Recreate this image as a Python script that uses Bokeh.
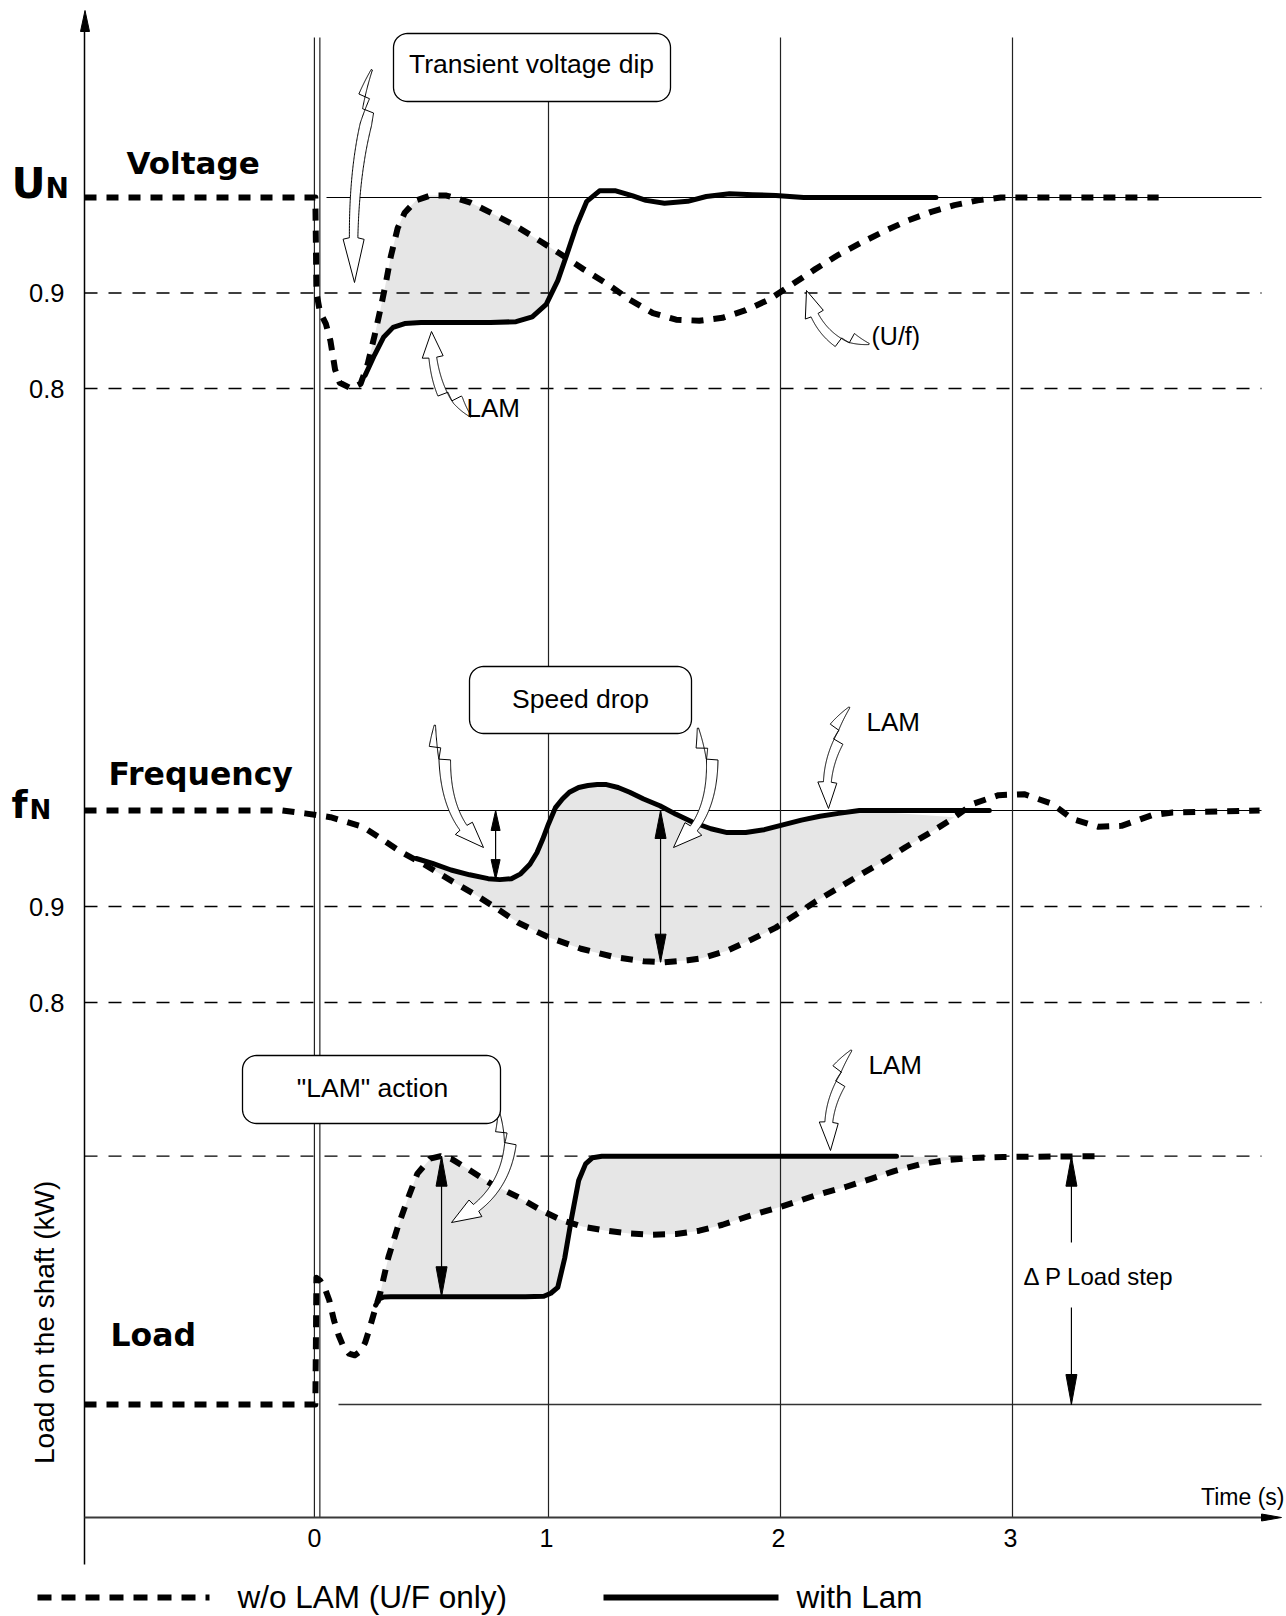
import numpy as np
from bokeh.plotting import figure
from bokeh.models import Range1d
from bokeh.core.properties import value
from bokeh.embed import file_html
from bokeh.resources import INLINE

# ---------------- values ----------------
time_ticks = [0, 1, 2, 3]
time_labels = ["0", "1", "2", "3"]
level_ticks = [0.9, 0.8]
level_labels = ["0.9", "0.8"]

# Voltage (p.u. of U_N)
volt_t_wo = [-1.0, -0.005, 0.0, 0.015, 0.04, 0.06, 0.08, 0.10, 0.15, 0.19, 0.22, 0.25, 0.28, 0.30,
             0.32, 0.35, 0.38, 0.43, 0.49, 0.56, 0.66, 0.76, 0.86, 0.96, 1.05, 1.15, 1.25, 1.35,
             1.45, 1.55, 1.65, 1.75, 1.85, 1.95, 2.05, 2.15, 2.25, 2.35, 2.45, 2.55, 2.65, 2.75,
             2.85, 2.95, 3.05, 3.63]
volt_wo = [1.0, 1.0, 0.90, 0.88, 0.868, 0.85, 0.82, 0.806, 0.80, 0.805, 0.825, 0.855, 0.888, 0.912,
           0.938, 0.968, 0.984, 0.997, 1.002, 1.002, 0.995, 0.983, 0.970, 0.955, 0.941, 0.925, 0.910,
           0.893, 0.879, 0.872, 0.871, 0.874, 0.882, 0.893, 0.909, 0.925, 0.940, 0.953, 0.965, 0.976,
           0.985, 0.992, 0.997, 1.0, 1.0, 1.0]
volt_t_lam = [0.21, 0.25, 0.29, 0.33, 0.38, 0.45, 0.60, 0.75, 0.86, 0.93, 0.99, 1.04, 1.08, 1.12,
              1.165, 1.22, 1.29, 1.36, 1.42, 1.50, 1.60, 1.68, 1.78, 1.88, 1.98, 2.10, 2.67]
volt_lam = [0.814, 0.835, 0.854, 0.864, 0.868, 0.869, 0.869, 0.869, 0.870, 0.875, 0.888, 0.913,
            0.941, 0.970, 0.996, 1.007, 1.007, 1.002, 0.997, 0.994, 0.996, 1.001, 1.004, 1.003,
            1.002, 1.0, 1.0]

# Frequency (p.u. of f_N)
freq_t_wo = [-1.0, -0.15, -0.05, 0.06, 0.2, 0.27, 0.37, 0.47, 0.58, 0.68, 0.77, 0.87, 1.0, 1.14,
             1.29, 1.41, 1.50, 1.60, 1.66, 1.77, 1.87, 1.98, 2.05, 2.15, 2.24, 2.35, 2.45, 2.54,
             2.66, 2.75, 2.83, 2.94, 3.05, 3.17, 3.26, 3.37, 3.47, 3.60, 3.69, 4.065]
freq_wo = [1.0, 1.0, 0.997, 0.993, 0.983, 0.972, 0.956, 0.943, 0.927, 0.913, 0.899, 0.883, 0.868,
           0.856, 0.847, 0.843, 0.842, 0.844, 0.846, 0.854, 0.865, 0.878, 0.889, 0.905, 0.918,
           0.934, 0.948, 0.962, 0.979, 0.993, 1.007, 1.016, 1.017, 1.007, 0.991, 0.983, 0.984,
           0.995, 0.998, 1.0]
freq_t_lam = [0.43, 0.50, 0.58, 0.66, 0.74, 0.79, 0.84, 0.88, 0.92, 0.95, 0.975, 1.0, 1.03, 1.06,
              1.09, 1.13, 1.17, 1.21, 1.25, 1.30, 1.35, 1.41, 1.48, 1.55, 1.62, 1.70, 1.77, 1.85,
              1.93, 2.01, 2.09, 2.17, 2.25, 2.34, 2.90]
freq_lam = [0.950, 0.945, 0.938, 0.933, 0.929, 0.928, 0.929, 0.934, 0.944, 0.956, 0.970, 0.986,
            1.003, 1.012, 1.019, 1.024, 1.026, 1.027, 1.027, 1.024, 1.019, 1.012, 1.005, 0.996,
            0.988, 0.981, 0.977, 0.977, 0.980, 0.985, 0.990, 0.994, 0.997, 1.0, 1.0]

# Load on the shaft (0 = initial load, 1 = initial load + load step)
load_t_wo = [-1.0, -0.005, 0.0, 0.015, 0.035, 0.055, 0.075, 0.095, 0.115, 0.14, 0.165, 0.19, 0.21,
             0.23, 0.25, 0.275, 0.31, 0.35, 0.39, 0.435, 0.49, 0.535, 0.58, 0.64, 0.75, 0.87, 0.97,
             1.06, 1.15, 1.25, 1.35, 1.45, 1.55, 1.65, 1.75, 1.87, 2.0, 2.15, 2.28, 2.39, 2.49,
             2.60, 2.71, 2.83, 2.96, 3.37]
load_wo = [0.0, 0.0, 0.51, 0.50, 0.47, 0.42, 0.34, 0.28, 0.235, 0.205, 0.198, 0.215, 0.25, 0.31,
           0.375, 0.45, 0.593, 0.714, 0.82, 0.93, 0.99, 1.0, 0.99, 0.956, 0.89, 0.835, 0.781,
           0.741, 0.716, 0.70, 0.689, 0.684, 0.687, 0.700, 0.724, 0.761, 0.796, 0.842, 0.876,
           0.909, 0.940, 0.967, 0.984, 0.993, 0.997, 1.0]
load_t_lam = [0.255, 0.27, 0.29, 0.32, 0.50, 0.70, 0.90, 0.98, 1.01, 1.04, 1.07, 1.10, 1.13, 1.16,
              1.19, 1.23, 1.60, 2.00, 2.50]
load_lam = [0.40, 0.425, 0.433, 0.434, 0.434, 0.434, 0.434, 0.436, 0.448, 0.472, 0.59, 0.754,
            0.902, 0.969, 0.994, 1.0, 1.0, 1.0, 1.0]

# measurement arrows: [time, from, to]
speed_drop_lam = [0.772, 1.0, 0.928]
speed_drop_wo = [1.483, 1.0, 0.842]
lam_action_gap = [0.539, 1.0, 0.434]
load_step = [3.254, 1.0, 0.0]

# ---------------- layout ----------------
W, H, M = 1286, 1616, 0
T0_PX, PX_PER_S = 316.0, 232.0
PPU = {"volt": 955.0, "freq": 960.0, "load": 248.3}
ANCHOR = {"volt": (197.0, 1.0), "freq": (810.0, 1.0), "load": (1404.0, 0.0)}


def t_at(px):
    return (px - T0_PX) / PX_PER_S


def level_range(name):
    ref_px, ref_val = ANCHOR[name]
    k = PPU[name]
    return Range1d(ref_val - (M + H - ref_px) / k, ref_val + (ref_px - M) / k)


p = figure(width=W, height=H, output_backend="svg", toolbar_location=None,
           x_range=Range1d(t_at(M), t_at(M + W)), y_range=Range1d(M + H, M),
           x_axis_type=None, y_axis_type=None, min_border=0,
           outline_line_color=None, background_fill_color="white",
           border_fill_color="white")
p.extra_x_ranges = {"px": Range1d(M, M + W)}
p.extra_y_ranges = {k: level_range(k) for k in PPU}

SANS = value("Liberation Sans")
HEAVY = value("DejaVu Sans")
GRAY = "#e6e6e6"
INK = "black"


def label(x, y, txt, size, align="left", font=SANS, style="normal", angle=0.0):
    # y is the visual centre of the text line
    p.text(x=[x], y=[y], text=[txt], x_range_name="px", text_font=font,
           text_font_size=value(f"{size}px"), text_font_style=style, text_align=align,
           text_baseline="middle", text_color=INK, angle=angle)


def pick(ts, vs, lo, hi):
    sel = [(t, v) for t, v in zip(ts, vs) if lo <= t <= hi]
    return [a for a, _ in sel], [b for _, b in sel]


def band(a, b, yr):
    xs = list(a[0]) + list(b[0])[::-1]
    ys = list(a[1]) + list(b[1])[::-1]
    p.patch(xs, ys, y_range_name=yr, fill_color=GRAY, line_color=None)


# shaded differences
band(pick(volt_t_wo, volt_wo, 0.21, 1.05), pick(volt_t_lam, volt_lam, 0.0, 1.08), "volt")
band(pick(freq_t_lam, freq_lam, 0.0, 2.34), pick(freq_t_wo, freq_wo, 0.43, 2.75), "freq")
band(pick(load_t_wo, load_wo, 0.25, 2.83), pick(load_t_lam, load_lam, 0.0, 2.5), "load")

# horizontal reference lines
T_LEFT, T_RIGHT = t_at(84), t_at(1261)
THIN_DASH = "13 11"
for yr in ("volt", "freq"):
    start = t_at(326) if yr == "volt" else t_at(330)
    p.line([start, T_RIGHT], [1.0, 1.0], y_range_name=yr, line_color=INK, line_width=1.2)
    for lv in level_ticks:
        p.line([T_LEFT, T_RIGHT], [lv, lv], y_range_name=yr, line_color=INK, line_width=1.3,
               line_dash=THIN_DASH)
p.line([T_LEFT, T_RIGHT], [1.0, 1.0], y_range_name="load", line_color=INK, line_width=1.3,
       line_dash=THIN_DASH)
p.line([t_at(338), T_RIGHT], [0.0, 0.0], y_range_name="load", line_color="#333333", line_width=1.6)

# vertical time lines
vx = []
for tt in time_ticks:
    if tt == 0:
        vx += [tt - 0.009, tt + 0.0145]
    else:
        vx.append(tt)
p.segment(x0=vx, y0=[37] * len(vx), x1=vx, y1=[1517] * len(vx), line_color="#222222",
          line_width=1.2)

# axes
p.segment(x0=[T_LEFT], y0=[28], x1=[T_LEFT], y1=[1564], line_color=INK, line_width=1.5)
p.patch([84.5, 80.0, 89.0], [10, 31, 31], x_range_name="px", fill_color=INK, line_color=INK)
p.line([T_LEFT, t_at(1262)], [1517, 1517], line_color="#3a3a3a", line_width=2.2)
p.patch([1281, 1261, 1261], [1517, 1513.5, 1520.5], x_range_name="px", fill_color=INK,
        line_color=INK)

# curves
for (tw, vw, tl, vl, yr) in ((volt_t_wo, volt_wo, volt_t_lam, volt_lam, "volt"),
                             (freq_t_wo, freq_wo, freq_t_lam, freq_lam, "freq"),
                             (load_t_wo, load_wo, load_t_lam, load_lam, "load")):
    p.line(tw, vw, y_range_name=yr, line_color=INK, line_width=6, line_dash="12 10",
           line_join="round")
    p.line(tl, vl, y_range_name=yr, line_color=INK, line_width=5, line_join="round",
           line_cap="round")


# double-headed measurement arrows
def double_arrow(spec, yr, head_len, head_w, gap=None):
    t, ya, yb = spec
    kx, ky = 1.0 / PX_PER_S, 1.0 / PPU[yr]
    if gap is None:
        p.segment([t], [ya], [t], [yb], y_range_name=yr, line_color=INK, line_width=1.2)
    else:
        p.segment([t, t], [ya, gap[1]], [t, t], [gap[0], yb], y_range_name=yr,
                  line_color=INK, line_width=1.2)
    sg = 1.0 if ya > yb else -1.0
    hw = 0.5 * head_w * kx
    xs = [[t, t - hw, t + hw], [t, t - hw, t + hw]]
    ys = [[ya, ya - sg * head_len * ky, ya - sg * head_len * ky],
          [yb, yb + sg * head_len * ky, yb + sg * head_len * ky]]
    p.patches(xs, ys, y_range_name=yr, fill_color=INK, line_color=INK, line_width=1)


double_arrow(speed_drop_lam, "freq", 20, 9)
double_arrow(speed_drop_wo, "freq", 28, 11)
double_arrow(lam_action_gap, "load", 30, 11)
double_arrow(load_step, "load", 30, 11,
             gap=((1404 - 1242) / PPU["load"], (1404 - 1307) / PPU["load"]))


# hollow "lightning" callout arrows (page pixel geometry)
def bolt(tail, ctrl, tip, head_len, head_w, shaft_w, zig_frac):
    P0, P1, P2 = (np.asarray(a, float) for a in (tail, ctrl, tip))
    s = np.linspace(0.0, 1.0, 160)
    B = np.outer((1 - s) ** 2, P0) + np.outer(2 * s * (1 - s), P1) + np.outer(s ** 2, P2)
    seg = np.hypot(*np.diff(B, axis=0).T)
    arc = np.concatenate([[0.0], np.cumsum(seg)])
    tan = np.gradient(B, axis=0)
    tan /= np.hypot(tan[:, 0], tan[:, 1])[:, None]
    nrm = np.column_stack([-tan[:, 1], tan[:, 0]])
    base = arc[-1] - head_len
    ib = int(np.searchsorted(arc, base))
    l, c, n = arc[:ib], B[:ib], nrm[:ib]
    half = 0.5 * shaft_w * np.clip(0.1 + l / (0.35 * base), 0, 1) * (1 - 0.35 * l / base)
    lz = zig_frac * base
    d = 0.9 * shaft_w
    offL = np.where(l < lz, d, 0.0)
    offR = np.where(l < lz + 0.9 * shaft_w, d, 0.0)
    left = c + n * (half + offL)[:, None]
    right = c + n * (-half + offR)[:, None]
    cb, nb = B[ib], nrm[ib]
    pts = list(left) + [cb + nb * 0.5 * head_w, P2, cb - nb * 0.5 * head_w] + list(right[::-1])
    pts = np.array(pts)
    p.patch(pts[:, 0], pts[:, 1], x_range_name="px", fill_color="white", line_color=INK,
            line_width=1.0, line_join="miter")


bolt((382, 74), (348, 150), (354, 282), 44, 21, 13, 0.16)
bolt((463, 424), (430, 392), (431, 331), 26, 21, 12, 0.35)
bolt((866, 354), (816, 342), (806, 290), 26, 20, 12, 0.30)
bolt((446, 726), (436, 815), (483, 847), 28, 21, 13, 0.20)
bolt((709, 726), (722, 815), (673, 847), 28, 21, 13, 0.20)
bolt((857, 714), (820, 755), (828, 808), 26, 19, 12, 0.30)
bolt((510, 1110), (518, 1192), (451, 1222), 28, 21, 13, 0.20)
bolt((859, 1057), (820, 1100), (830, 1150), 28, 19, 12, 0.30)


# rounded callout boxes
def rounded_box(left, right, top, bottom, r=14):
    xs, ys = [], []
    for cx, cy, a0 in ((right - r, top + r, -90), (right - r, bottom - r, 0),
                       (left + r, bottom - r, 90), (left + r, top + r, 180)):
        a = np.radians(np.linspace(a0, a0 + 90, 12))
        xs += list(cx + r * np.cos(a))
        ys += list(cy + r * np.sin(a))
    p.patch(xs, ys, x_range_name="px", fill_color="white", line_color=INK, line_width=1.3)


rounded_box(393, 670, 33, 101)
rounded_box(469, 691, 666, 733)
rounded_box(242, 500, 1055, 1123)
label(531, 63, "Transient voltage dip", 26.5, align="center")
label(580, 698, "Speed drop", 26.5, align="center")
label(372, 1087, "\"LAM\" action", 26.5, align="center")

# small annotation texts
label(466, 407, "LAM", 26)
label(871, 335, "(U/f)", 25)
label(866, 721, "LAM", 26)
label(868, 1064, "LAM", 26)
label(1023, 1276, "\u0394 P Load step", 24)
label(1284, 1496, "Time (s)", 23, align="right")

# panel titles
label(11, 183, "U", 42, font=HEAVY, style="bold")
label(45, 188, "N", 28, font=HEAVY, style="bold")
label(126, 162, "Voltage", 31, font=HEAVY, style="bold")
label(11, 805, "f", 37, font=HEAVY, style="bold")
label(29, 809, "N", 26, font=HEAVY, style="bold")
label(108, 773, "Frequency", 31.5, font=HEAVY, style="bold")
label(110, 1334, "Load", 31.5, font=HEAVY, style="bold")
label(44, 1318, "Load on the shaft  (kW)", 28, align="center", angle=np.pi / 2)

# tick labels
p.text(x=time_ticks, y=[1537] * len(time_ticks), text=time_labels, x_offset=-2,
       text_font=SANS, text_font_size=value("25px"), text_align="center",
       text_baseline="middle", text_color=INK)
for yr in ("volt", "freq"):
    p.text(x=[t_at(64)] * len(level_ticks), y=level_ticks, text=level_labels, y_range_name=yr,
           text_font=SANS, text_font_size=value("25.5px"), text_align="right",
           text_baseline="middle", text_color=INK)

# legend
p.line([37, 209], [1597, 1597], x_range_name="px", line_color=INK, line_width=6,
       line_dash="14 10")
label(237, 1596, "w/o LAM (U/F only)", 31.5)
p.line([603, 778], [1597, 1597], x_range_name="px", line_color=INK, line_width=6)
label(796, 1596, "with Lam", 31.5)

open("out.html", "w").write(file_html(p, INLINE))
